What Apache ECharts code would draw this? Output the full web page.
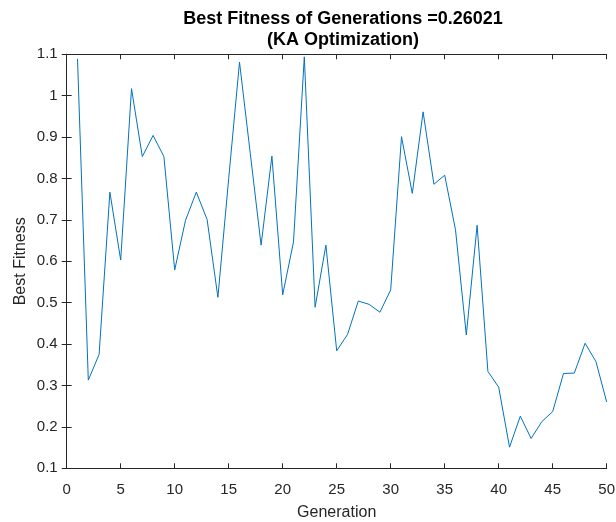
<!DOCTYPE html>
<html>
<head>
<meta charset="utf-8">
<script src="https://cdn.jsdelivr.net/npm/echarts@6/dist/echarts.min.js"></script>
<style>html,body{margin:0;padding:0;background:#fff}#c{width:616px;height:522px}</style>
</head>
<body>
<div id="c"></div>
<script>
const generations = [];
for (let i = 1; i <= 50; i++) generations.push(i);
const bestFitness = [
  1.089, 0.313, 0.375, 0.767, 0.603, 1.017, 0.853, 0.904, 0.853, 0.579,
  0.699, 0.767, 0.701, 0.513, 0.80, 1.081, 0.86, 0.639, 0.854, 0.519,
  0.647, 1.094, 0.489, 0.639, 0.384, 0.423, 0.504, 0.496, 0.477, 0.531,
  0.901, 0.764, 0.961, 0.786, 0.808, 0.676, 0.422, 0.687, 0.334, 0.296,
  0.151, 0.226, 0.172, 0.213, 0.237, 0.329, 0.330, 0.402, 0.358, 0.26021
];
const titleLines = ['Best Fitness of Generations =0.26021', '(KA Optimization)'];
const xLabel = 'Generation';
const yLabel = 'Best Fitness';

const axisColor = '#262626';
const font = 'Liberation Sans, Arial, Helvetica, sans-serif';
const chart = echarts.init(document.getElementById('c'));
const data = generations.map((g, i) => [g, bestFitness[i]]);
const baseAxisLine = { show: true, lineStyle: { color: axisColor, width: 1 } };
chart.setOption({
  animation: false,
  title: {
    text: titleLines.join('\n'),
    left: 338, top: 4, textAlign: 'center',
    textStyle: { fontFamily: font, fontSize: 18, fontWeight: 'bold', color: '#000', lineHeight: 21 }
  },
  grid: { left: 66.7, right: 9.3, top: 54.3, bottom: 53.7, containLabel: false, outerBoundsMode: 'none' },
  xAxis: [{
    type: 'value', min: 0, max: 50, interval: 5, position: 'bottom',
    name: xLabel, nameLocation: 'middle', nameGap: 36, nameMoveOverlap: false,
    nameTextStyle: { fontFamily: font, fontSize: 16, color: axisColor },
    axisLine: baseAxisLine,
    axisTick: { show: true, inside: true, length: 5, lineStyle: { color: axisColor } },
    axisLabel: { fontFamily: font, fontSize: 15, color: axisColor, margin: 14 },
    splitLine: { show: false }
  }, {
    type: 'value', min: 0, max: 50, interval: 5, position: 'top',
    axisLine: baseAxisLine,
    axisTick: { show: true, inside: true, length: 5, lineStyle: { color: axisColor } },
    axisLabel: { show: false }, splitLine: { show: false }
  }],
  yAxis: [{
    type: 'value', min: 0.1, max: 1.1, interval: 0.1, position: 'left',
    name: yLabel, nameLocation: 'middle', nameGap: 38, nameMoveOverlap: false,
    nameTextStyle: { fontFamily: font, fontSize: 16, color: axisColor },
    axisLine: baseAxisLine,
    axisTick: { show: true, inside: true, length: 5, lineStyle: { color: axisColor } },
    axisLabel: { fontFamily: font, fontSize: 15, color: axisColor, margin: 9,
      formatter: v => String(Math.round(v * 10) / 10) },
    splitLine: { show: false }
  }, {
    type: 'value', min: 0.1, max: 1.1, interval: 0.1, position: 'right',
    axisLine: baseAxisLine,
    axisTick: { show: true, inside: true, length: 5, lineStyle: { color: axisColor } },
    axisLabel: { show: false }, splitLine: { show: false }
  }],
  series: [{
    type: 'line', data: data, xAxisIndex: 0, yAxisIndex: 0,
    showSymbol: false, symbol: 'none',
    lineStyle: { color: '#0072BD', width: 1 }
  }]
});
</script>
</body>
</html>
